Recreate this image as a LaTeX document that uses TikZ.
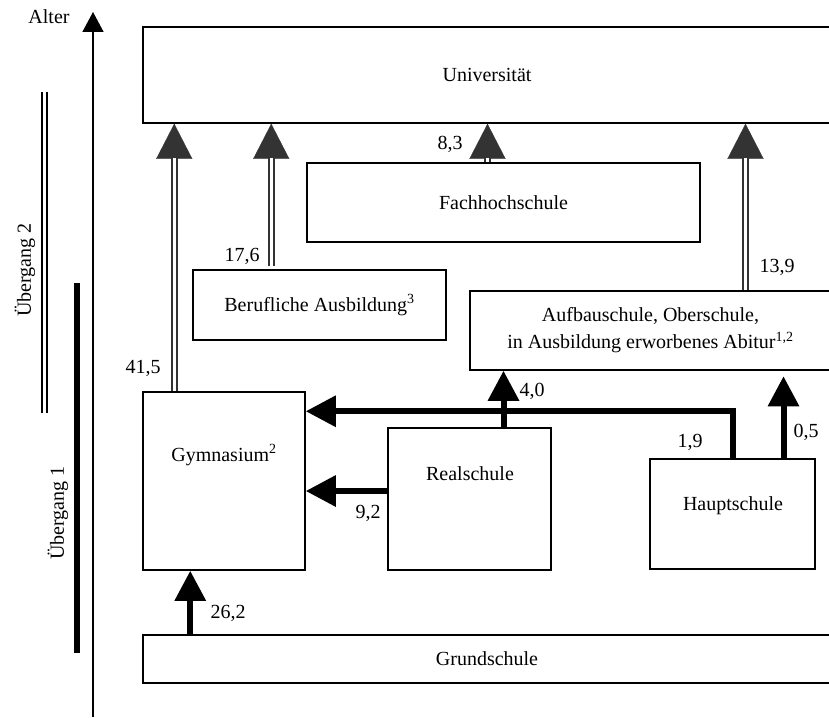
\documentclass[tikz,border=0pt]{standalone}
\usepackage{fontspec}
\setmainfont{Liberation Serif}
\usetikzlibrary{arrows.meta}
\definecolor{arrgray}{HTML}{333333}

\begin{document}
\begin{tikzpicture}[x=1pt, y=-1pt, font=\fontsize{20}{27}\selectfont,
    box/.style={draw, line width=1.5, inner sep=2pt},
    dbl/.style={draw=arrgray, line width=2, double=white, double distance=2.5, shorten >=34pt},
    dblhead/.style={draw=arrgray, line width=0.2, -{Triangle[length=35pt, width=36pt]}},
    thk/.style={line width=6, -{Triangle[length=30pt, width=30pt]}}]
  \clip (0,0) rectangle (829,717);

  % age axis and the two transitions
  \coordinate (abot) at (93,717);
  \coordinate (atop) at (93,12);
  \draw[line width=1.5, -{Triangle[length=20pt, width=21pt]}] (abot) -- (atop);
  \node (alter) at (49,17) {Alter};
  \draw[line width=2, double=white, double distance=2.5] (44.5,92) -- (44.5,413);
  \draw[line width=6] (77,283) -- (77,653);
  \node[rotate=90] (ueb2) at (25,270) {Übergang 2};
  \node[rotate=90] (ueb1) at (58,513) {Übergang 1};

  % schools
  \node[box, minimum width=688, minimum height=96] (uni) at (487,75) {Universität};
  \node[box, minimum width=393, minimum height=79] (fh) at (503.5,202.5) {Fachhochschule};
  \node[box, minimum width=253, minimum height=70] (beruf) at (319.5,305) {Berufliche Ausbildung\textsuperscript{3}};
  \node[box, minimum width=361, minimum height=79, align=center] (aufbau) at (650.5,330.5)
    {Aufbauschule, Oberschule,\\in Ausbildung erworbenes Abitur\textsuperscript{1,2}};
  \node[box, minimum width=162, minimum height=178] (gym) at (224,481) {};
  \node (gymtxt) at (224,455) {Gymnasium\textsuperscript{2}};
  \node[box, minimum width=163, minimum height=142] (real) at (469.5,499) {};
  \node (realtxt) at (470,474) {Realschule};
  \node[box, minimum width=165, minimum height=110] (haupt) at (732.5,514) {};
  \node (haupttxt) at (733,506) {Hauptschule};
  \node[box, minimum width=688, minimum height=48] (grund) at (487,659) {Grundschule};

  % transitions to the university
  \coordinate (g1) at ([xshift=32pt]gym.north west);
  \coordinate (b1) at ([xshift=79pt, yshift=3pt]beruf.north west);
  \coordinate (f1) at ([xshift=-16pt]fh.north);
  \coordinate (a1) at ([xshift=95pt]aufbau.north);
  \draw[dblhead] (g1) -- (g1 |- uni.south);
  \draw[dbl] (g1) -- (g1 |- uni.south);
  \draw[dblhead] (b1) -- (b1 |- uni.south);
  \draw[dbl] (b1) -- (b1 |- uni.south);
  \draw[dblhead] (f1) -- (f1 |- uni.south);
  \draw[dbl] (f1) -- (f1 |- uni.south);
  \draw[dblhead] (a1) -- (a1 |- uni.south);
  \draw[dbl] (a1) -- (a1 |- uni.south);

  % transitions between schools
  \coordinate (s1) at ([xshift=48pt]gym.south west);
  \draw[thk] (s1 |- grund.north) -- (s1);
  \coordinate (rw) at ([yshift=8pt]real.west);
  \draw[thk] (rw) -- (rw -| gym.east);
  \coordinate (knee) at ([yshift=47pt]haupt.north);
  \draw[thk] (haupt.north) -- (knee) -- (knee -| gym.east);
  \coordinate (r2) at ([xshift=34pt]real.north);
  \draw[thk] (r2) -- (r2 |- aufbau.south);
  \coordinate (h2) at ([xshift=51pt]haupt.north);
  \draw[thk] (h2) -- ++(0,-82);

  % shares
  \node (l415) at (143,368) {41,5};
  \node (l176) at (242,256) {17,6};
  \node (l83) at (450,144) {8,3};
  \node (l139) at (777,267) {13,9};
  \node (l262) at (228,613) {26,2};
  \node (l92) at (368,513) {9,2};
  \node (l19) at (690,442) {1,9};
  \node (l40) at (532,391) {4,0};
  \node (l05) at (806,432) {0,5};
\end{tikzpicture}
\end{document}
